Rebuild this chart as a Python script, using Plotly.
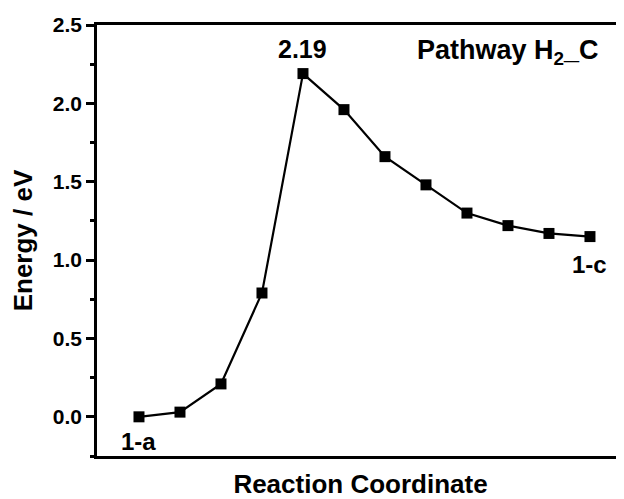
import plotly.graph_objects as go

# Data
steps = list(range(12))
energy = [0.0, 0.03, 0.21, 0.79, 2.19, 1.96, 1.66, 1.48, 1.30, 1.22, 1.17, 1.15]
y_ticks = [0.0, 0.5, 1.0, 1.5, 2.0, 2.5]
y_tick_labels = ["0.0", "0.5", "1.0", "1.5", "2.0", "2.5"]
peak_label = "2.19"
start_label = "1-a"
end_label = "1-c"
pathway_label = "Pathway H<sub>2</sub>_C"

FONT = "Liberation Sans, Arial, sans-serif"

fig = go.Figure()
fig.add_trace(go.Scatter(
    x=steps, y=energy, mode="lines+markers",
    line=dict(color="black", width=2.2),
    marker=dict(symbol="square", size=11, color="black"),
    showlegend=False,
))

fig.add_annotation(x=steps[4], y=energy[4], text="<b>" + peak_label + "</b>",
                   showarrow=False, yshift=25, font=dict(size=25, color="black", family=FONT))
fig.add_annotation(x=steps[0], y=energy[0], text="<b>" + start_label + "</b>",
                   showarrow=False, yshift=-25, font=dict(size=24, color="black", family=FONT))
fig.add_annotation(x=steps[-1], y=energy[-1], text="<b>" + end_label + "</b>",
                   showarrow=False, yshift=-28, font=dict(size=24, color="black", family=FONT))
fig.add_annotation(xref="paper", yref="paper", x=0.780, y=0.937, text="<b>" + pathway_label + "</b>",
                   showarrow=False, xanchor="center", yanchor="middle",
                   font=dict(size=27, color="black", family=FONT))

fig.update_layout(
    width=616, height=491,
    margin=dict(l=89, r=0, t=17, b=43),
    paper_bgcolor="white", plot_bgcolor="white",
    font=dict(family=FONT, color="black"),
    xaxis=dict(
        range=[-1.024, 11.83],
        showline=True, linecolor="black", linewidth=2.5, mirror=True,
        showgrid=False, zeroline=False, showticklabels=False, ticks="",
        title=dict(text="<b>Reaction Coordinate</b>", font=dict(size=26, family=FONT), standoff=18),
    ),
    yaxis=dict(
        range=[-0.25, 2.5],
        showline=True, linecolor="black", linewidth=2.5, mirror=False,
        showgrid=False, zeroline=False,
        tickmode="array", tickvals=y_ticks, ticktext=["<b>" + t + "</b>" for t in y_tick_labels],
        ticks="outside", ticklen=8, tickwidth=2.5, tickcolor="black",
        tickfont=dict(size=21, family=FONT),
        minor=dict(ticks="outside", ticklen=4, tickwidth=2.5, tickcolor="black", dtick=0.25, tick0=0),
        title=dict(text="<b>Energy / eV</b>", font=dict(size=26, family=FONT), standoff=13),
    ),
)

fig.write_html("out.html")
